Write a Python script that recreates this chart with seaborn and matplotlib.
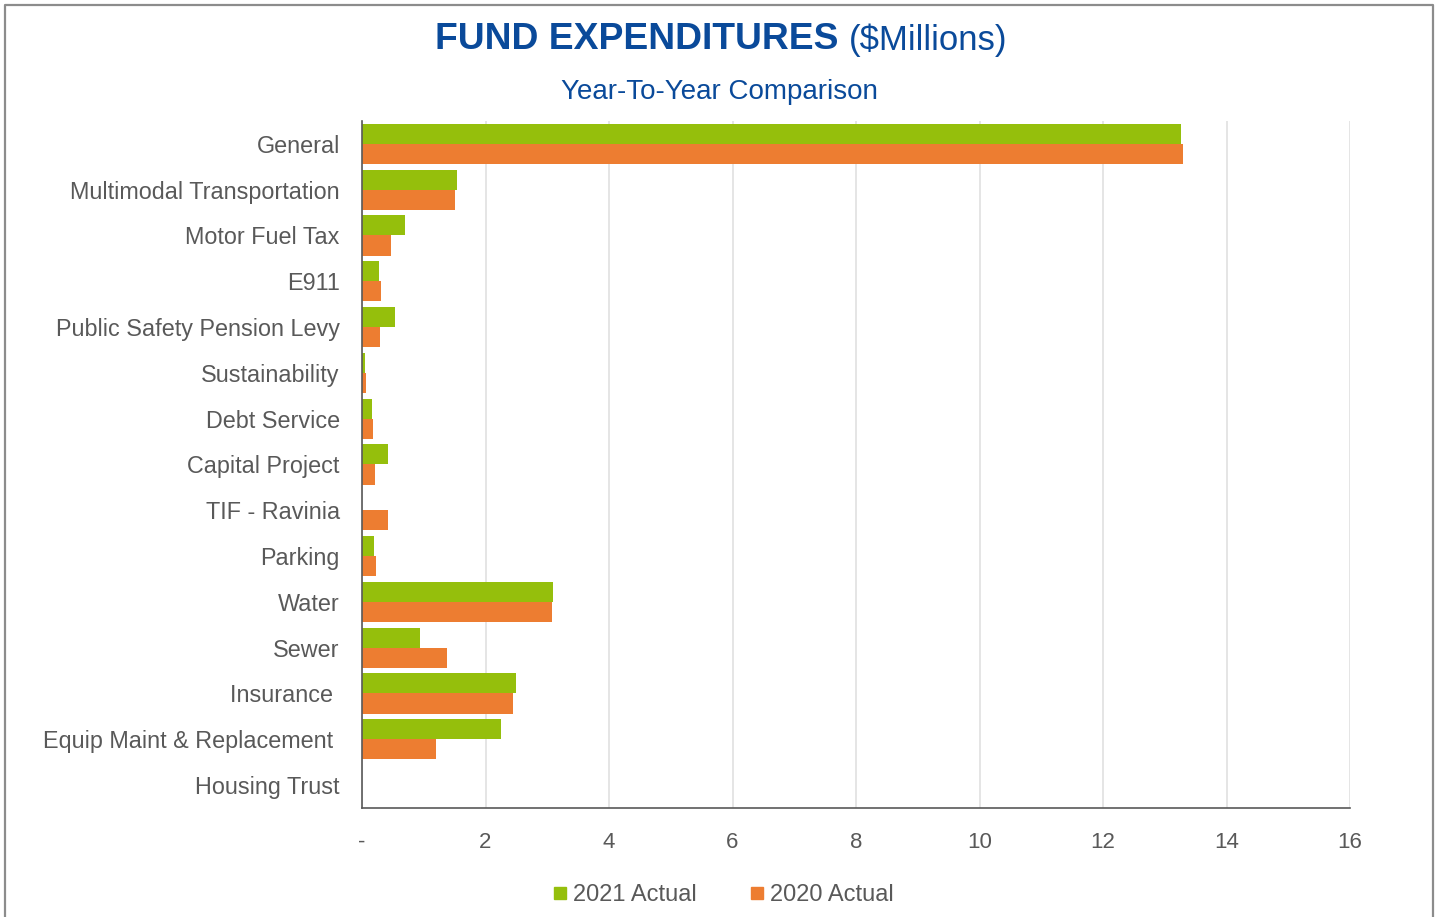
import numpy as np
import pandas as pd
import matplotlib.pyplot as plt
import seaborn as sns
from matplotlib.lines import Line2D

# Fund expenditures, $ millions
funds = ['General', 'Multimodal Transportation', 'Motor Fuel Tax', 'E911',
         'Public Safety Pension Levy', 'Sustainability', 'Debt Service',
         'Capital Project', 'TIF - Ravinia', 'Parking', 'Water', 'Sewer',
         'Insurance ', 'Equip Maint & Replacement ', 'Housing Trust']
actual_2021 = [13.26, 1.54, 0.70, 0.28, 0.53, 0.05, 0.16, 0.42, 0.0, 0.19,
               3.09, 0.94, 2.49, 2.25, 0.0]
actual_2020 = [13.30, 1.51, 0.47, 0.31, 0.29, 0.07, 0.18, 0.21, 0.42, 0.23,
               3.08, 1.38, 2.45, 1.20, 0.0]
years = ['2021 Actual', '2020 Actual']
x_ticks = [0, 2, 4, 6, 8, 10, 12, 14, 16]
x_tick_labels = ['-', '2', '4', '6', '8', '10', '12', '14', '16']

df = pd.DataFrame({
    'Fund': funds * 2,
    'Value': actual_2021 + actual_2020,
    'Year': [years[0]] * len(funds) + [years[1]] * len(funds),
})

sns.set_style('white')
plt.rcParams['font.family'] = ['Liberation Sans', 'DejaVu Sans']

green = '#95BF0C'
orange = '#ED7D31'
blue = '#0A4A9A'
grey_text = '#595959'

fig = plt.figure(figsize=(14.39, 9.17), dpi=100)
ax = fig.add_axes([0.2516, 0.1189, 0.6866, 0.7492])

sns.barplot(data=df, y='Fund', x='Value', hue='Year', orient='h',
            palette=[green, orange], saturation=1, width=0.88, gap=0,
            order=funds, hue_order=years, edgecolor='none', ax=ax)

ax.set_xlim(0, 16)
ax.set_ylim(14.5, -0.5)
ax.set_xticks(x_ticks)
ax.set_xticklabels(x_tick_labels)
ax.set_xlabel('')
ax.set_ylabel('')
ax.grid(axis='x', color='#E0E0E0', linewidth=1.2)
ax.set_axisbelow(True)
for s in ['top', 'right']:
    ax.spines[s].set_visible(False)
for s in ['left', 'bottom']:
    ax.spines[s].set_color('#595959')
    ax.spines[s].set_linewidth(1.2)
ax.tick_params(axis='x', length=0, pad=17, labelsize=16, labelcolor=grey_text)
ax.tick_params(axis='y', length=0, pad=16, labelsize=16.8, labelcolor=grey_text)

ax.get_legend().remove()
handles = [Line2D([0], [0], marker='s', linestyle='', markersize=9,
                  markerfacecolor=c, markeredgecolor=c) for c in [green, orange]]
fig.legend(handles, years, loc='center', bbox_to_anchor=(0.502, 0.024),
           ncol=2, frameon=False, fontsize=17, labelcolor=grey_text,
           handletextpad=0.2, columnspacing=2.2, handlelength=0.7)

# titles
fig.text(0.5824, 0.9565, 'FUND EXPENDITURES', ha='right', va='center',
         fontsize=26.8, fontweight='bold', color=blue)
fig.text(0.590, 0.9565, '($Millions)', ha='left', va='center',
         fontsize=25, color=blue)
fig.text(0.4997, 0.900, 'Year-To-Year Comparison', ha='center', va='center',
         fontsize=20, color=blue)

# outer frame (left, top, right)
x0, x1, yt = 5 / 1439, 1433 / 1439, 1 - 5 / 917
fig.add_artist(Line2D([x0, x0, x1, x1], [0, yt, yt, 0], transform=fig.transFigure,
                      color='#8C8C8C', linewidth=1.6))

fig.savefig('out.png', dpi=100)
